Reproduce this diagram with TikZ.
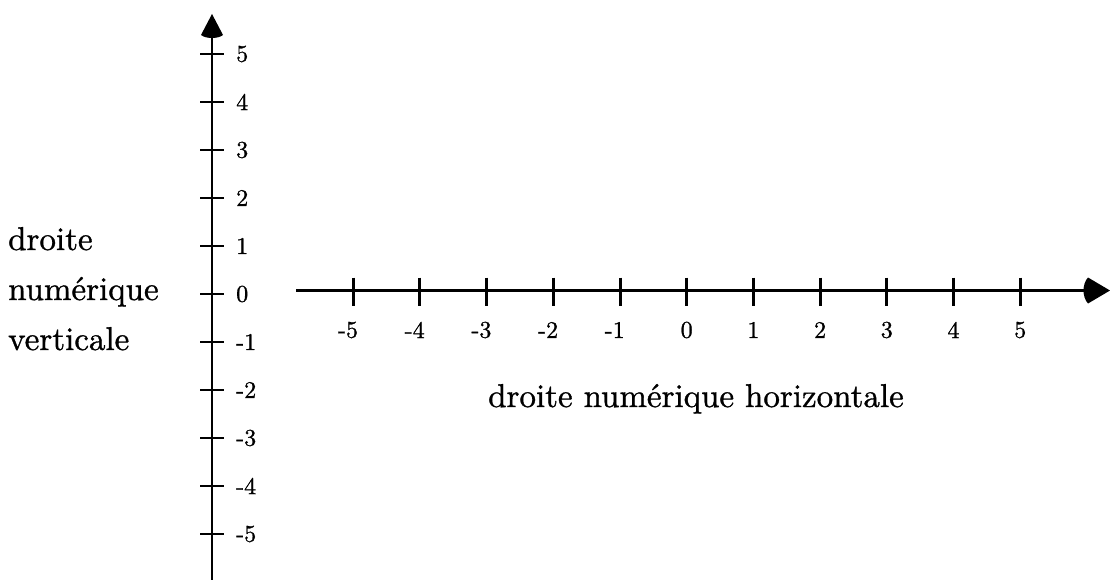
\documentclass[tikz,border=0pt]{standalone}
\usepackage{fontspec}
\setmainfont{lmroman10-regular.otf}[FakeBold=1]
\begin{document}
\begin{tikzpicture}[x=1pt,y=-1pt,
  vaxis/.style={line width=2.2pt},
  haxis/.style={line width=3.3pt},
  vtick/.style={line width=2.4pt},
  htick/.style={line width=3pt},
  numlbl/.style={inner sep=0pt,font=\fontsize{24}{28}\selectfont},
  caption/.style={inner sep=0pt,anchor=base west,font=\fontsize{33}{40}\selectfont},
  arrowhead/.style={fill=black,draw=none}]
\useasboundingbox (0,0) rectangle (1110,580);
% vertical axis
\coordinate (vb) at (212,580);
\coordinate (vt) at (212,36);
\draw[vaxis] (vb) -- (vt);
\fill[arrowhead] (212,14) -- (223,35) .. controls (218,39) and (206,39) .. (201,35) -- cycle;
\foreach \k in {-5,...,5}{
  \coordinate (vl\k) at (200,{294-48*\k});
  \coordinate (vr\k) at (224,{294-48*\k});
  \draw[vtick] (vl\k) -- (vr\k);
  \node[numlbl,anchor=west] (vn\k) at (236,{294-48*\k}) {\k};
}
% horizontal axis
\coordinate (hl) at (296,290.5);
\coordinate (hr) at (1090,290.5);
\draw[haxis] (hl) -- (hr);
\fill[arrowhead] (1110,290.5) -- (1088,277.5) .. controls (1082,284) and (1082,297) .. (1088,303.5) -- cycle;
\foreach \k in {-5,...,5}{
  \coordinate (ht\k) at ({686.7+66.7*\k},277.5);
  \coordinate (hb\k) at ({686.7+66.7*\k},305.5);
  \draw[htick] (ht\k) -- (hb\k);
}
\foreach \k in {-5,...,-1}{
  \node[numlbl,anchor=east] (hn\k) at ({686.7+66.7*\k+5},330) {\k};
}
\foreach \k in {0,...,5}{
  \node[numlbl] (hn\k) at ({686.7+66.7*\k},330) {\k};
}
% captions
\node[caption] (c1) at (8,250) {droite};
\node[caption] (c2) at (8,300) {numérique};
\node[caption] (c3) at (8,350) {verticale};
\node[caption] (ch) at (488,407) {droite numérique horizontale};
\end{tikzpicture}
\end{document}
